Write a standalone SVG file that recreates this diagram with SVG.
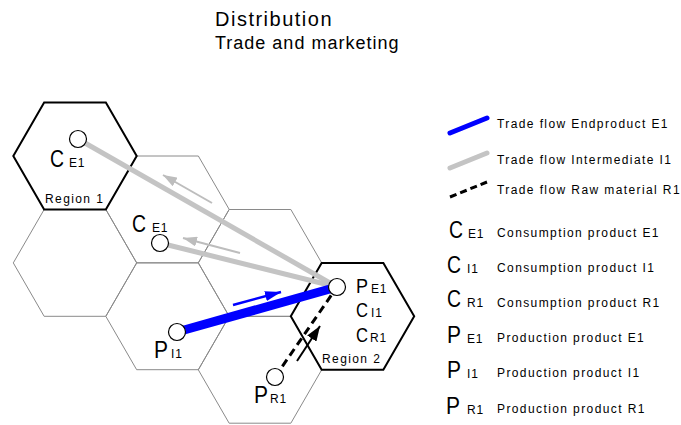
<svg xmlns="http://www.w3.org/2000/svg" xmlns:xlink="http://www.w3.org/1999/xlink" width="681" height="425" viewBox="0 0 681 425">
  <style>
    text { font-family: "Liberation Sans", Arial, sans-serif; fill: #000; }
    .title { font-size: 20px; letter-spacing: 1.5px; }
    .subtitle { font-size: 18px; letter-spacing: 1px; }
    .big { font-size: 24px; }
    .mid { font-size: 20px; }
    .sub { font-size: 12px; letter-spacing: 0.8px; }
    .lbl { font-size: 12px; letter-spacing: 1.4px; }
    .cell { fill: none; stroke: #8a8a8a; stroke-width: 1; }
    .region { fill: none; stroke: #000; stroke-width: 2; stroke-linejoin: miter; }
    .site { fill: #fff; stroke: #000; stroke-width: 1.2; }
    .flow-e { stroke: #0000ff; stroke-width: 9; fill: none; }
    .flow-i { stroke: #c4c4c4; stroke-width: 5; fill: none; }
    .flow-r { stroke: #000; stroke-width: 3; stroke-dasharray: 8 5; fill: none; }
    .dir-i { stroke: #bdbdbd; stroke-width: 2; fill: none; }
    .dir-e { stroke: #0000ff; stroke-width: 2.5; fill: none; }
    .dir-r { stroke: #000; stroke-width: 2; fill: none; }
    .key-e { stroke: #0000ff; stroke-width: 5; stroke-linecap: round; }
    .key-i { stroke: #c4c4c4; stroke-width: 5; stroke-linecap: round; }
    .key-r { stroke: #000; stroke-width: 3; stroke-dasharray: 7 4; }
  </style>
  <defs>
    <polygon id="hex" points="-61.7,0 -30.85,-53.4 30.85,-53.4 61.7,0 30.85,53.4 -30.85,53.4"/>
    <marker id="head-i" markerUnits="userSpaceOnUse" markerWidth="15" markerHeight="10" refX="14" refY="5" orient="auto">
      <path d="M0,0 L14,5 L0,10 z" fill="#bdbdbd"/>
    </marker>
    <marker id="head-e" markerUnits="userSpaceOnUse" markerWidth="17" markerHeight="10" refX="16" refY="5" orient="auto">
      <path d="M0,0 L16,5 L0,10 z" fill="#0000ff"/>
    </marker>
    <marker id="head-r" markerUnits="userSpaceOnUse" markerWidth="16" markerHeight="11" refX="15" refY="5.5" orient="auto">
      <path d="M0,0 L15,5.5 L0,11 z" fill="#000"/>
    </marker>
  </defs>

  <!-- heading -->
  <g id="heading">
    <text class="title" x="215" y="26">Distribution</text>
    <text class="subtitle" x="215" y="49">Trade and marketing</text>
  </g>

  <!-- hexagonal cells of the grid -->
  <g id="grid">
    <use xlink:href="#hex" href="#hex" class="cell" x="75" y="262.9"/>
    <use xlink:href="#hex" href="#hex" class="cell" x="167.5" y="209.4"/>
    <use xlink:href="#hex" href="#hex" class="cell" x="167.5" y="316.3"/>
    <use xlink:href="#hex" href="#hex" class="cell" x="260" y="262.9"/>
    <use xlink:href="#hex" href="#hex" class="cell" x="260" y="369.8"/>
  </g>

  <!-- regions -->
  <g id="region1">
    <use xlink:href="#hex" href="#hex" class="region" x="75" y="156"/>
    <text class="lbl" x="45" y="203">Region 1</text>
  </g>
  <g id="region2">
    <use xlink:href="#hex" href="#hex" class="region" x="352.5" y="316.3"/>
    <text class="lbl" x="322" y="363">Region 2</text>
  </g>

  <!-- trade flows and direction arrows -->
  <g id="connectors">
    <line class="flow-i" x1="78" y1="139" x2="337" y2="287"/>
    <line class="flow-i" x1="160" y1="243" x2="337" y2="287"/>
    <line class="flow-e" x1="177" y1="332" x2="337" y2="287"/>
    <line class="flow-r" x1="275" y1="377" x2="337" y2="287"/>
    <line class="dir-i" x1="212" y1="203" x2="163" y2="175" marker-end="url(#head-i)"/>
    <line class="dir-i" x1="240" y1="253" x2="183" y2="238" marker-end="url(#head-i)"/>
    <line class="dir-e" x1="233" y1="305" x2="281" y2="292" marker-end="url(#head-e)"/>
    <line class="dir-r" x1="297" y1="361" x2="320" y2="326" marker-end="url(#head-r)"/>
  </g>

  <!-- sites -->
  <g id="ce1-region1">
    <circle class="site" cx="78" cy="139" r="8.5"/>
    <text class="big" x="50" y="167" textLength="14" lengthAdjust="spacingAndGlyphs">C</text>
    <text class="sub" x="69" y="167">E1</text>
  </g>
  <g id="ce1-center">
    <circle class="site" cx="160" cy="243" r="8.5"/>
    <text class="big" x="132" y="232" textLength="14" lengthAdjust="spacingAndGlyphs">C</text>
    <text class="sub" x="152" y="232">E1</text>
  </g>
  <g id="pi1">
    <circle class="site" cx="177" cy="332" r="8.5"/>
    <text class="big" x="154" y="358" textLength="14" lengthAdjust="spacingAndGlyphs">P</text>
    <text class="sub" x="171" y="358">I1</text>
  </g>
  <g id="pr1">
    <circle class="site" cx="275" cy="377" r="8.5"/>
    <text class="big" x="254" y="403" textLength="14" lengthAdjust="spacingAndGlyphs">P</text>
    <text class="sub" x="270" y="403">R1</text>
  </g>
  <g id="pe1-region2">
    <circle class="site" cx="337" cy="287" r="8.5"/>
    <text class="mid" x="356" y="293" textLength="12" lengthAdjust="spacingAndGlyphs">P</text>
    <text class="sub" x="371" y="293">E1</text>
    <text class="mid" x="356" y="317" textLength="12" lengthAdjust="spacingAndGlyphs">C</text>
    <text class="sub" x="371" y="317">I1</text>
    <text class="mid" x="356" y="342" textLength="12" lengthAdjust="spacingAndGlyphs">C</text>
    <text class="sub" x="370" y="342">R1</text>
  </g>

  <!-- legend -->
  <g id="legend">
    <line class="key-e" x1="450" y1="133" x2="487" y2="118"/>
    <text class="lbl" x="497" y="128">Trade flow Endproduct E1</text>
    <line class="key-i" x1="450" y1="168" x2="487" y2="153"/>
    <text class="lbl" x="497" y="164">Trade flow Intermediate I1</text>
    <line class="key-r" x1="450" y1="197" x2="487" y2="182"/>
    <text class="lbl" x="497" y="194">Trade flow Raw material R1</text>

    <text class="big" x="449" y="238" textLength="14" lengthAdjust="spacingAndGlyphs">C</text>
    <text class="sub" x="468" y="238">E1</text>
    <text class="lbl" x="497" y="237">Consumption product E1</text>

    <text class="big" x="447" y="273" textLength="14" lengthAdjust="spacingAndGlyphs">C</text>
    <text class="sub" x="467" y="273">I1</text>
    <text class="lbl" x="497" y="272">Consumption product I1</text>

    <text class="big" x="447" y="307" textLength="14" lengthAdjust="spacingAndGlyphs">C</text>
    <text class="sub" x="467" y="307">R1</text>
    <text class="lbl" x="497" y="307">Consumption product R1</text>

    <text class="big" x="447" y="343" textLength="14" lengthAdjust="spacingAndGlyphs">P</text>
    <text class="sub" x="467" y="343">E1</text>
    <text class="lbl" x="497" y="342">Production product E1</text>

    <text class="big" x="447" y="378" textLength="14" lengthAdjust="spacingAndGlyphs">P</text>
    <text class="sub" x="467" y="378">I1</text>
    <text class="lbl" x="497" y="377">Production product I1</text>

    <text class="big" x="446" y="414" textLength="14" lengthAdjust="spacingAndGlyphs">P</text>
    <text class="sub" x="467" y="414">R1</text>
    <text class="lbl" x="497" y="413">Production product R1</text>
  </g>
</svg>
